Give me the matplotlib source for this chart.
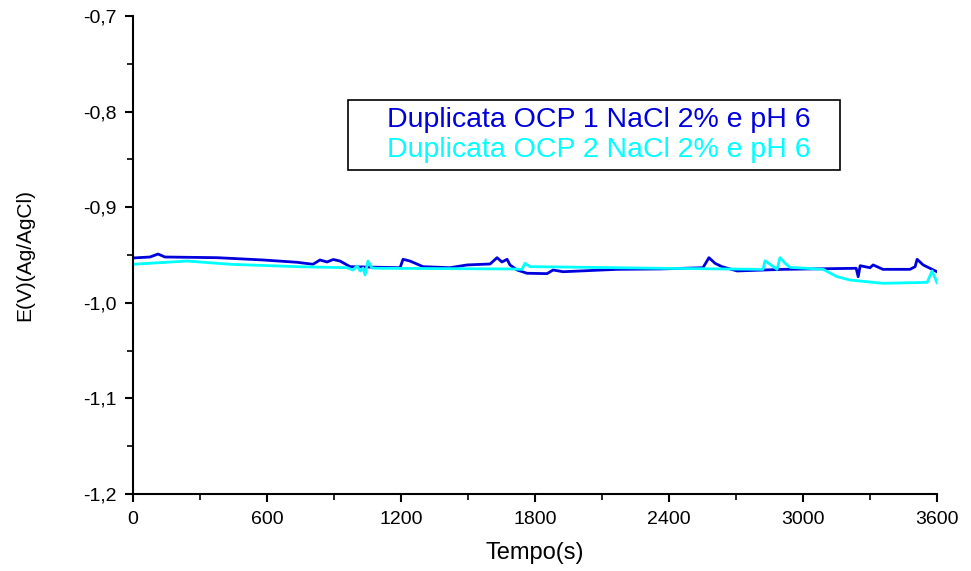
import matplotlib
matplotlib.use("Agg")
import matplotlib.pyplot as plt
from matplotlib.patches import Rectangle
from matplotlib.ticker import MultipleLocator, FuncFormatter

plt.rcParams['font.family'] = ['Liberation Sans', 'DejaVu Sans']

# Series 1 (blue)
t1 = [0, 76, 112, 143, 376, 582, 734, 806, 837, 869, 896, 927, 972, 1196, 1209, 1240,
      1299, 1419, 1496, 1599, 1630, 1652, 1675, 1688, 1720, 1764, 1854, 1881, 1926, 2167,
      2360, 2552, 2579, 2606, 2637, 2705, 2911, 3238, 3247, 3256, 3300, 3314, 3358, 3479,
      3502, 3511, 3538, 3600]
e1 = [-0.9531, -0.9521, -0.9490, -0.9521, -0.9528, -0.9552, -0.9576, -0.9597, -0.9552,
      -0.9573, -0.9547, -0.9563, -0.9622, -0.9633, -0.9545, -0.9563, -0.9622, -0.9633,
      -0.9604, -0.9594, -0.9528, -0.9573, -0.9545, -0.9604, -0.9657, -0.9691, -0.9695,
      -0.9657, -0.9675, -0.9650, -0.9646, -0.9633, -0.9528, -0.9587, -0.9622, -0.9667,
      -0.9650, -0.9639, -0.9727, -0.9612, -0.9633, -0.9604, -0.9650, -0.9650, -0.9622,
      -0.9545, -0.9604, -0.9675]

# Series 2 (cyan)
t2 = [0, 242, 434, 734, 958, 985, 1003, 1017, 1030, 1039, 1052, 1070, 1106, 1688, 1742,
      1755, 1778, 1899, 2360, 2821, 2830, 2884, 2897, 2920, 2942, 3090, 3153, 3211, 3358,
      3556, 3578, 3600]
e2 = [-0.9597, -0.9563, -0.9597, -0.9622, -0.9633, -0.9657, -0.9615, -0.9667, -0.9636,
      -0.9709, -0.9563, -0.9636, -0.9639, -0.9646, -0.9650, -0.9587, -0.9622, -0.9625,
      -0.9639, -0.9650, -0.9560, -0.9650, -0.9528, -0.9587, -0.9629, -0.9650, -0.9727,
      -0.9762, -0.9796, -0.9786, -0.9667, -0.9790]

labels = ["Duplicata OCP 1 NaCl 2% e pH 6", "Duplicata OCP 2 NaCl 2% e pH 6"]
colors = ["#0000dd", "#00ffff"]

fig = plt.figure(figsize=(9.71, 5.71), dpi=100)
ax = fig.add_axes([133/971, 77/571, 804/971, 478/571])

ax.plot(t1, e1, color=colors[0], lw=2, label=labels[0])
ax.plot(t2, e2, color=colors[1], lw=2, label=labels[1])

ax.set_xlim(0, 3600)
ax.set_ylim(-1.2, -0.7)
ax.xaxis.set_major_locator(MultipleLocator(600))
ax.xaxis.set_minor_locator(MultipleLocator(300))
ax.yaxis.set_major_locator(MultipleLocator(0.1))
ax.yaxis.set_minor_locator(MultipleLocator(0.05))
ax.yaxis.set_major_formatter(FuncFormatter(lambda v, p: f"{v:.1f}".replace('.', ',')))
ax.xaxis.set_major_formatter(FuncFormatter(lambda v, p: f"{int(round(v))}"))

for s in ['top', 'right']:
    ax.spines[s].set_visible(False)
for s in ['left', 'bottom']:
    ax.spines[s].set_linewidth(1.5)
ax.tick_params(which='major', direction='out', length=6, width=1.5, labelsize=14, pad=6)
ax.tick_params(which='minor', direction='out', length=4, width=1.2)

ax.set_xlabel("Tempo(s)", fontsize=17, labelpad=10)
ax.set_ylabel("E(V)(Ag/AgCl)", fontsize=15, labelpad=35)

# Legend box (text-only legend, coloured entries)
ax.add_patch(Rectangle((0.2674, 0.6778), 0.612, 0.1465, transform=ax.transAxes,
                       facecolor='white', edgecolor='black', lw=1.2, zorder=5))
for i, (lab, c) in enumerate(zip(labels, colors)):
    ax.text(0.5796, 0.7824 - i * 0.0627, lab, color=c, fontsize=20.5,
            ha='center', va='center', transform=ax.transAxes, zorder=6)

fig.savefig("out.png", dpi=100)
